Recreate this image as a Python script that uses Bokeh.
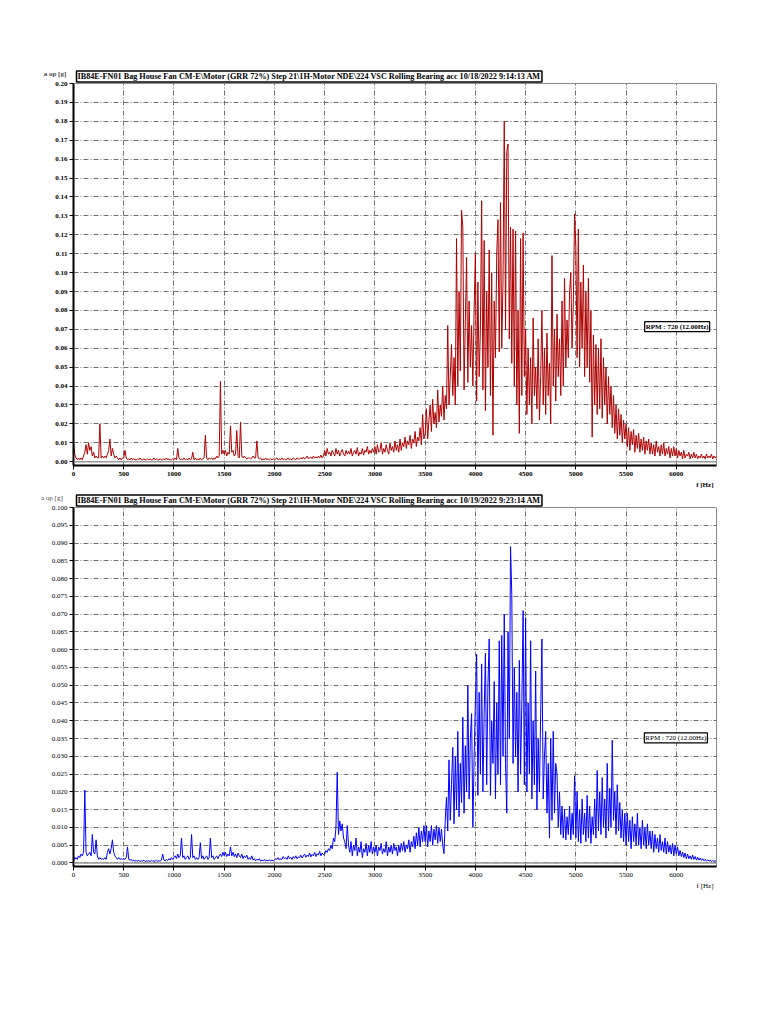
import numpy as np
from bokeh.plotting import figure
from bokeh.models import FixedTicker, PrintfTickFormatter, Label, Span, Range1d, ColumnDataSource, Title
from bokeh.layouts import column
from bokeh.embed import file_html
from bokeh.resources import INLINE

# ---------------- data ----------------
FREQ_STEP_HZ = 12.5  # spectral line spacing used for both spectra (Hz)

x_ticks = [0, 500, 1000, 1500, 2000, 2500, 3000, 3500, 4000, 4500, 5000, 5500, 6000]
top_y_ticks = [round(i * 0.01, 2) for i in range(21)]
bottom_y_ticks = [round(i * 0.005, 3) for i in range(21)]

top_title = "IB84E-FN01 Bag House Fan CM-E\\Motor (GRR 72%) Step 21\\1H-Motor NDE\\224 VSC Rolling Bearing acc 10/18/2022 9:14:13 AM"
bottom_title = "IB84E-FN01 Bag House Fan CM-E\\Motor (GRR 72%) Step 21\\1H-Motor NDE\\224 VSC Rolling Bearing acc 10/19/2022 9:23:14 AM"
rpm_text = "RPM : 720 (12.00Hz)"
y_title = "a op [g]"
x_title = "f [Hz]"

# acceleration amplitude, 10/18/2022 (g), 0 ... 6400 Hz, one row = 250 Hz
top_amp = [
    0.010, 0.004, 0.002, 0.001, 0.002, 0.001, 0.002, 0.001, 0.003, 0.005, 0.009, 0.004, 0.010, 0.006, 0.008, 0.003, 0.005, 0.002, 0.003, 0.002,
    0.002, 0.020, 0.002, 0.003, 0.002, 0.003, 0.002, 0.004, 0.006, 0.012, 0.003, 0.007, 0.004, 0.002, 0.003, 0.002, 0.001, 0.002, 0.001, 0.002,
    0.002, 0.006, 0.002, 0.001, 0.0015, 0.001, 0.002, 0.001, 0.0015, 0.001, 0.001, 0.0015, 0.001, 0.002, 0.001, 0.001, 0.0015, 0.001, 0.001, 0.0015,
    0.001, 0.0015, 0.001, 0.001, 0.002, 0.001, 0.0015, 0.001, 0.001, 0.0015, 0.001, 0.001, 0.0015, 0.001, 0.002, 0.001, 0.0015, 0.001, 0.001, 0.0015,
    0.001, 0.002, 0.001, 0.007, 0.002, 0.001, 0.0015, 0.001, 0.002, 0.001, 0.0015, 0.001, 0.002, 0.001, 0.0015, 0.005, 0.001, 0.002, 0.001, 0.0015,
    0.001, 0.002, 0.001, 0.0015, 0.002, 0.014, 0.002, 0.001, 0.002, 0.0015, 0.002, 0.001, 0.002, 0.0015, 0.003, 0.002, 0.003, 0.0425, 0.004, 0.006,
    0.004, 0.006, 0.003, 0.005, 0.004, 0.019, 0.005, 0.006, 0.003, 0.004, 0.0165, 0.003, 0.002, 0.021, 0.003, 0.002, 0.003, 0.002, 0.0015, 0.002,
    0.002, 0.0015, 0.002, 0.003, 0.002, 0.002, 0.011, 0.002, 0.0015, 0.002, 0.001, 0.0015, 0.001, 0.002, 0.001, 0.0015, 0.001, 0.0015, 0.001, 0.0015,
    0.001, 0.0015, 0.002, 0.001, 0.0015, 0.001, 0.002, 0.001, 0.0015, 0.001, 0.0015, 0.002, 0.001, 0.0015, 0.001, 0.002, 0.0015, 0.001, 0.002, 0.0015,
    0.0015, 0.002, 0.0015, 0.0025, 0.0015, 0.002, 0.003, 0.0015, 0.002, 0.0025, 0.0015, 0.003, 0.002, 0.0025, 0.002, 0.003, 0.002, 0.0035, 0.002, 0.003,
    0.006, 0.003, 0.007, 0.004, 0.005, 0.003, 0.006, 0.0045, 0.003, 0.007, 0.004, 0.006, 0.003, 0.005, 0.0065, 0.004, 0.003, 0.006, 0.004, 0.0055,
    0.004, 0.007, 0.003, 0.005, 0.006, 0.004, 0.0075, 0.003, 0.005, 0.004, 0.007, 0.0035, 0.006, 0.005, 0.008, 0.004, 0.006, 0.0045, 0.007, 0.005,
    0.008, 0.004, 0.009, 0.005, 0.006, 0.010, 0.004, 0.007, 0.005, 0.009, 0.006, 0.004, 0.010, 0.006, 0.008, 0.005, 0.011, 0.006, 0.009, 0.005,
    0.012, 0.006, 0.010, 0.008, 0.013, 0.007, 0.011, 0.009, 0.014, 0.007, 0.012, 0.010, 0.016, 0.008, 0.013, 0.011, 0.018, 0.009, 0.025, 0.012,
    0.015, 0.028, 0.012, 0.022, 0.030, 0.016, 0.033, 0.020, 0.026, 0.018, 0.038, 0.021, 0.030, 0.024, 0.040, 0.022, 0.035, 0.028, 0.072, 0.030,
    0.045, 0.062, 0.035, 0.055, 0.030, 0.118, 0.040, 0.090, 0.048, 0.133, 0.124, 0.038, 0.075, 0.108, 0.042, 0.085, 0.050, 0.072, 0.040, 0.080,
    0.110, 0.032, 0.095, 0.045, 0.070, 0.138, 0.038, 0.117, 0.027, 0.090, 0.050, 0.112, 0.035, 0.100, 0.014, 0.085, 0.055, 0.110, 0.128, 0.058,
    0.137, 0.060, 0.095, 0.180, 0.070, 0.164, 0.168, 0.065, 0.124, 0.052, 0.123, 0.040, 0.122, 0.030, 0.080, 0.015, 0.118, 0.035, 0.121, 0.045,
    0.070, 0.025, 0.060, 0.030, 0.055, 0.020, 0.076, 0.035, 0.050, 0.028, 0.065, 0.022, 0.045, 0.080, 0.030, 0.060, 0.025, 0.068, 0.035, 0.052,
    0.020, 0.109, 0.040, 0.070, 0.032, 0.078, 0.045, 0.065, 0.035, 0.085, 0.040, 0.097, 0.050, 0.075, 0.055, 0.090, 0.100, 0.060, 0.085, 0.131,
    0.114, 0.055, 0.123, 0.050, 0.095, 0.060, 0.104, 0.045, 0.090, 0.050, 0.097, 0.042, 0.080, 0.013, 0.067, 0.030, 0.062, 0.025, 0.060, 0.028,
    0.065, 0.023, 0.055, 0.030, 0.050, 0.020, 0.045, 0.025, 0.040, 0.018, 0.035, 0.015, 0.030, 0.012, 0.028, 0.014, 0.025, 0.010, 0.022, 0.012,
    0.020, 0.008, 0.018, 0.006, 0.016, 0.009, 0.017, 0.005, 0.014, 0.007, 0.015, 0.005, 0.012, 0.006, 0.013, 0.004, 0.011, 0.006, 0.012, 0.004,
    0.010, 0.004, 0.009, 0.003, 0.011, 0.005, 0.008, 0.003, 0.009, 0.004, 0.010, 0.003, 0.007, 0.004, 0.008, 0.002, 0.007, 0.003, 0.008, 0.003,
    0.007, 0.002, 0.006, 0.003, 0.005, 0.0015, 0.006, 0.002, 0.004, 0.003, 0.005, 0.0015, 0.004, 0.002, 0.005, 0.002, 0.004, 0.0015, 0.003, 0.002,
    0.004, 0.002, 0.003, 0.0015, 0.004, 0.002, 0.003, 0.002, 0.004, 0.0015, 0.003, 0.002, 0.003,
]

# acceleration amplitude, 10/19/2022 (g), 0 ... 6400 Hz, one row = 250 Hz
bottom_amp = [
    0.002, 0.001, 0.0015, 0.001, 0.002, 0.0015, 0.0025, 0.002, 0.003, 0.0205, 0.003, 0.002, 0.0025, 0.003, 0.002, 0.008, 0.003, 0.0025, 0.0065, 0.002,
    0.001, 0.0015, 0.001, 0.0012, 0.001, 0.0015, 0.001, 0.003, 0.004, 0.0025, 0.004, 0.0065, 0.003, 0.002, 0.0015, 0.001, 0.0015, 0.001, 0.0012, 0.001,
    0.0012, 0.001, 0.0015, 0.0045, 0.001, 0.0008, 0.001, 0.0005, 0.0008, 0.0005, 0.0007, 0.0005, 0.0008, 0.0004, 0.0006, 0.0005, 0.0008, 0.0004, 0.0006, 0.0005,
    0.0006, 0.0004, 0.0007, 0.0005, 0.0006, 0.0004, 0.0008, 0.0005, 0.0006, 0.0005, 0.0008, 0.0025, 0.0008, 0.0006, 0.001, 0.0007, 0.0012, 0.0008, 0.0015, 0.001,
    0.0015, 0.002, 0.0012, 0.0025, 0.0015, 0.002, 0.007, 0.0015, 0.002, 0.001, 0.0015, 0.002, 0.001, 0.0015, 0.008, 0.0015, 0.002, 0.001, 0.0015, 0.001,
    0.0015, 0.0057, 0.0012, 0.002, 0.001, 0.0015, 0.002, 0.001, 0.0015, 0.007, 0.0015, 0.002, 0.001, 0.0015, 0.002, 0.0012, 0.002, 0.0025, 0.0018, 0.003,
    0.002, 0.003, 0.0018, 0.0025, 0.002, 0.0045, 0.002, 0.003, 0.0018, 0.0025, 0.0015, 0.0028, 0.002, 0.0015, 0.0025, 0.0012, 0.002, 0.0015, 0.0022, 0.001,
    0.0015, 0.001, 0.002, 0.0008, 0.0012, 0.0006, 0.001, 0.0008, 0.0012, 0.0005, 0.0008, 0.0006, 0.001, 0.0005, 0.0008, 0.0006, 0.0009, 0.0005, 0.0008, 0.0006,
    0.0008, 0.0012, 0.001, 0.0015, 0.0008, 0.0012, 0.001, 0.0018, 0.0012, 0.0015, 0.001, 0.002, 0.0012, 0.0016, 0.001, 0.0018, 0.0013, 0.002, 0.0012, 0.0017,
    0.0015, 0.0022, 0.0014, 0.002, 0.0025, 0.0016, 0.0022, 0.0018, 0.0028, 0.0017, 0.0024, 0.002, 0.003, 0.0018, 0.0026, 0.0022, 0.0033, 0.002, 0.0028, 0.0023,
    0.0025, 0.0035, 0.003, 0.004, 0.0035, 0.005, 0.004, 0.007, 0.006, 0.010, 0.0255, 0.008, 0.0118, 0.009, 0.011, 0.007, 0.006, 0.004, 0.0105, 0.005,
    0.003, 0.006, 0.002, 0.005, 0.0035, 0.007, 0.002, 0.0045, 0.003, 0.006, 0.0015, 0.004, 0.003, 0.0055, 0.002, 0.005, 0.003, 0.006, 0.0025, 0.0045,
    0.003, 0.005, 0.002, 0.0045, 0.0035, 0.0055, 0.0025, 0.004, 0.003, 0.006, 0.002, 0.0045, 0.003, 0.005, 0.0025, 0.0055, 0.0035, 0.0045, 0.002, 0.005,
    0.003, 0.0055, 0.0035, 0.006, 0.003, 0.005, 0.004, 0.0065, 0.003, 0.006, 0.0045, 0.0075, 0.004, 0.0085, 0.005, 0.010, 0.0045, 0.009, 0.006, 0.0105,
    0.006, 0.0105, 0.0045, 0.009, 0.006, 0.0105, 0.005, 0.0095, 0.0065, 0.0105, 0.0055, 0.010, 0.006, 0.0095, 0.005, 0.0026, 0.012, 0.0185, 0.009, 0.029,
    0.012, 0.022, 0.0325, 0.011, 0.030, 0.015, 0.037, 0.013, 0.028, 0.017, 0.041, 0.014, 0.033, 0.020, 0.050, 0.018, 0.035, 0.042, 0.010, 0.030,
    0.045, 0.0587, 0.019, 0.048, 0.025, 0.056, 0.020, 0.042, 0.059, 0.022, 0.050, 0.063, 0.019, 0.040, 0.028, 0.051, 0.018, 0.045, 0.025, 0.0625,
    0.022, 0.064, 0.030, 0.070, 0.028, 0.014, 0.065, 0.035, 0.089, 0.0755, 0.028, 0.055, 0.030, 0.048, 0.020, 0.057, 0.025, 0.045, 0.071, 0.022,
    0.069, 0.020, 0.045, 0.025, 0.0625, 0.018, 0.040, 0.022, 0.054, 0.015, 0.035, 0.020, 0.042, 0.063, 0.018, 0.030, 0.037, 0.014, 0.028, 0.007,
    0.035, 0.012, 0.037, 0.014, 0.028, 0.025, 0.010, 0.020, 0.008, 0.016, 0.007, 0.015, 0.0065, 0.013, 0.008, 0.016, 0.0065, 0.014, 0.008, 0.0245,
    0.007, 0.020, 0.006, 0.015, 0.0055, 0.018, 0.008, 0.014, 0.006, 0.019, 0.007, 0.016, 0.0055, 0.013, 0.008, 0.018, 0.007, 0.026, 0.009, 0.020,
    0.008, 0.024, 0.010, 0.018, 0.007, 0.028, 0.009, 0.021, 0.010, 0.0345, 0.012, 0.020, 0.008, 0.022, 0.009, 0.017, 0.007, 0.015, 0.006, 0.014,
    0.005, 0.014, 0.006, 0.012, 0.004, 0.013, 0.006, 0.011, 0.005, 0.014, 0.005, 0.010, 0.004, 0.012, 0.005, 0.010, 0.004, 0.011, 0.005, 0.009,
    0.004, 0.009, 0.003, 0.008, 0.004, 0.007, 0.003, 0.008, 0.0035, 0.006, 0.003, 0.007, 0.0025, 0.006, 0.003, 0.005, 0.0025, 0.0055, 0.002, 0.005,
    0.0025, 0.0045, 0.002, 0.0035, 0.0018, 0.003, 0.0015, 0.0028, 0.0012, 0.0025, 0.0012, 0.002, 0.001, 0.0022, 0.001, 0.0018, 0.0008, 0.0016, 0.0008, 0.0014,
    0.0007, 0.0012, 0.0006, 0.001, 0.0005, 0.0009, 0.0005, 0.0008, 0.0004, 0.0007, 0.0004, 0.0006, 0.0004,
]

# position of the RPM marker annotation (data units)
top_rpm_pos = (5685, 0.0714)
bottom_rpm_pos = (5682, 0.0352)

FONT = "Liberation Serif"


def make_chart(amp, color, title, y_ticks, y_fmt, y_min, y_max, rpm_pos,
               width, height, borders, bold):
    left, right, top, bottom = borders
    freq = np.arange(len(amp)) * FREQ_STEP_HZ
    src = ColumnDataSource(dict(f=freq, a=amp))
    p = figure(width=width, height=height, output_backend="svg", toolbar_location=None,
               x_range=Range1d(0, 6400), y_range=Range1d(y_min, y_max),
               min_border_left=left, min_border_right=right,
               min_border_top=top, min_border_bottom=bottom,
               background_fill_color="white", border_fill_color="white")
    p.outline_line_color = "#8a8a8a"
    p.outline_line_width = 1

    style = "bold" if bold else "normal"
    for ax in (p.xaxis[0], p.yaxis[0]):
        ax.axis_line_color = "black"
        ax.axis_line_width = 2
        ax.major_tick_line_color = "black"
        ax.major_tick_out = 4
        ax.major_tick_in = 0
        ax.minor_tick_line_color = None
        ax.major_label_text_font = FONT
        ax.major_label_text_font_size = "7px"
        ax.major_label_text_font_style = style
        ax.major_label_text_color = "black"
        ax.major_label_standoff = 2
    p.xaxis.ticker = FixedTicker(ticks=x_ticks)
    p.yaxis.ticker = FixedTicker(ticks=y_ticks)
    p.xaxis.formatter = PrintfTickFormatter(format="%d")
    p.yaxis.formatter = PrintfTickFormatter(format=y_fmt)

    # y-axis title, horizontal, lifted above the top end of the axis by two blank lines
    yax = p.yaxis[0]
    yax.axis_label = y_title + "\n \n "
    yax.axis_label_text_font = FONT
    yax.axis_label_text_font_size = "7px"
    yax.axis_label_text_font_style = style
    yax.axis_label_text_line_height = 1.2
    yax.axis_label_standoff = -14
    try:
        yax.axis_label_orientation = "horizontal"
        yax.axis_label_align = "end"
    except Exception:
        pass

    p.xgrid.ticker = FixedTicker(ticks=x_ticks)
    p.ygrid.ticker = FixedTicker(ticks=y_ticks)
    for g in (p.xgrid[0], p.ygrid[0]):
        g.grid_line_color = "#707070"
        g.grid_line_dash = "5 2 1 2"
        g.grid_line_width = 1

    p.add_layout(Span(location=0, dimension="width", line_color="#9a9a9a", line_width=1.5))

    p.line("f", "a", source=src, line_color=color, line_width=1)

    t = Title(text=title, align="left", offset=3, standoff=3,
              text_font=FONT, text_font_size="8.2px", text_font_style="bold",
              text_color="black",
              border_line_color="black", border_line_width=1.5,
              background_fill_color="white")
    try:
        t.padding = 1
    except Exception:
        pass
    p.add_layout(t, "above")

    p.add_layout(Title(text=x_title, align="right", offset=3, standoff=0,
                       text_font=FONT, text_font_size="7px", text_font_style=style,
                       text_color="black"), "below")

    p.add_layout(Label(x=rpm_pos[0], y=rpm_pos[1], text=rpm_text,
                       text_font=FONT, text_font_size="7px", text_font_style=style,
                       text_color="black", text_baseline="middle",
                       border_line_color="black", border_line_width=1.2,
                       background_fill_color="white", padding=1))
    return p


p1 = make_chart(top_amp, "#b00000", top_title, top_y_ticks, "%.2f", -0.002, 0.200,
                top_rpm_pos, 752, 488, (72, 36, 83, 23), True)
p2 = make_chart(bottom_amp, "#0000ff", bottom_title, bottom_y_ticks, "%.3f", -0.001, 0.100,
                bottom_rpm_pos, 752, 407, (73, 32, 19, 29), False)

layout = column(p1, p2, spacing=0)
open("out.html", "w").write(file_html(layout, INLINE))
